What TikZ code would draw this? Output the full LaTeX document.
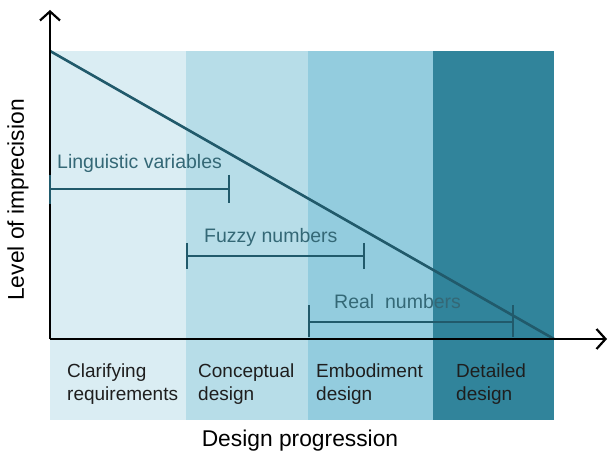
\documentclass[tikz,border=0pt]{standalone}
\usepackage{fontspec}
\setmainfont{Liberation Sans}
\usetikzlibrary{arrows.meta}
\definecolor{bandA}{RGB}{218,237,243}
\definecolor{bandB}{RGB}{183,221,232}
\definecolor{bandC}{RGB}{147,204,222}
\definecolor{bandD}{RGB}{49,132,155}
\definecolor{lineteal}{RGB}{33,90,107}
\definecolor{textteal}{RGB}{52,104,118}
\definecolor{labgray}{RGB}{30,30,30}
\tikzset{
  band/.style={draw=none},
  axisline/.style={black, line width=2.6pt, -{Straight Barb[length=9pt,width=20pt,line width=2.2pt]}},
  rangebar/.style={lineteal, line width=2.4pt},
  rangetick/.style={lineteal, line width=2.4pt},
  rangelabel/.style={text=textteal, font=\fontsize{19.5}{22}\selectfont, inner sep=0pt},
  phase/.style={text=labgray, font=\fontsize{19}{22.5}\selectfont, align=left, anchor=north west, inner sep=0pt},
  axislabel/.style={text=black, font=\fontsize{22.8}{26}\selectfont, inner sep=0pt}
}
\begin{document}
\begin{tikzpicture}[x=1pt,y=-1pt]
\useasboundingbox (0,0) rectangle (608,457);
% bands
\fill[bandA] (50,51) rectangle (186,420);
\fill[bandB] (186,51) rectangle (308,420);
\fill[bandC] (308,51) rectangle (433,420);
\fill[bandD] (433,51) rectangle (554,420);
% diagonal
\coordinate (dstart) at (50,51);
\coordinate (dend) at (554,339);
\draw[lineteal, line width=2.6pt] (dstart) -- (dend);
% axes
\coordinate (origin) at (50,339);
\coordinate (ytip) at (50,10);
\coordinate (xtip) at (607,339);
\draw[axisline] (origin) -- (ytip);
\draw[axisline] (origin) -- (xtip);
% range bars
\coordinate (l1) at (50,189); \coordinate (l2) at (229,189);
\draw[rangebar] (l1) -- (l2);
\draw[rangetick] (50,175) -- (50,204);
\draw[rangetick] (229,175) -- (229,203);
\node[rangelabel, anchor=west] (ling) at (57,163) {Linguistic variables};

\coordinate (f1) at (187,256); \coordinate (f2) at (364,256);
\draw[rangebar] (f1) -- (f2);
\draw[rangetick] (187,243) -- (187,269);
\draw[rangetick] (364,243) -- (364,269);
\node[rangelabel, anchor=west] (fuzzy) at (204,237) {Fuzzy numbers};

\coordinate (r1) at (309,322); \coordinate (r2) at (513,322);
\draw[rangebar] (r1) -- (r2);
\draw[rangetick] (309,305) -- (309,337);
\draw[rangetick] (513,305) -- (513,337);
\node[rangelabel, anchor=west] (real) at (334,302) {Real\ \ numbers};
% phase labels
\node[phase] (p1) at (67,364) {Clarifying\\requirements};
\node[phase] (p2) at (198,364) {Conceptual\\design};
\node[phase] (p3) at (316,364) {Embodiment\\design};
\node[phase] (p4) at (456,364) {Detailed\\design};
% axis labels
\node[axislabel] (xlab) at (300,441) {Design progression};
\node[axislabel, rotate=90] (ylab) at (18,200) {Level of imprecision};
\end{tikzpicture}
\end{document}
